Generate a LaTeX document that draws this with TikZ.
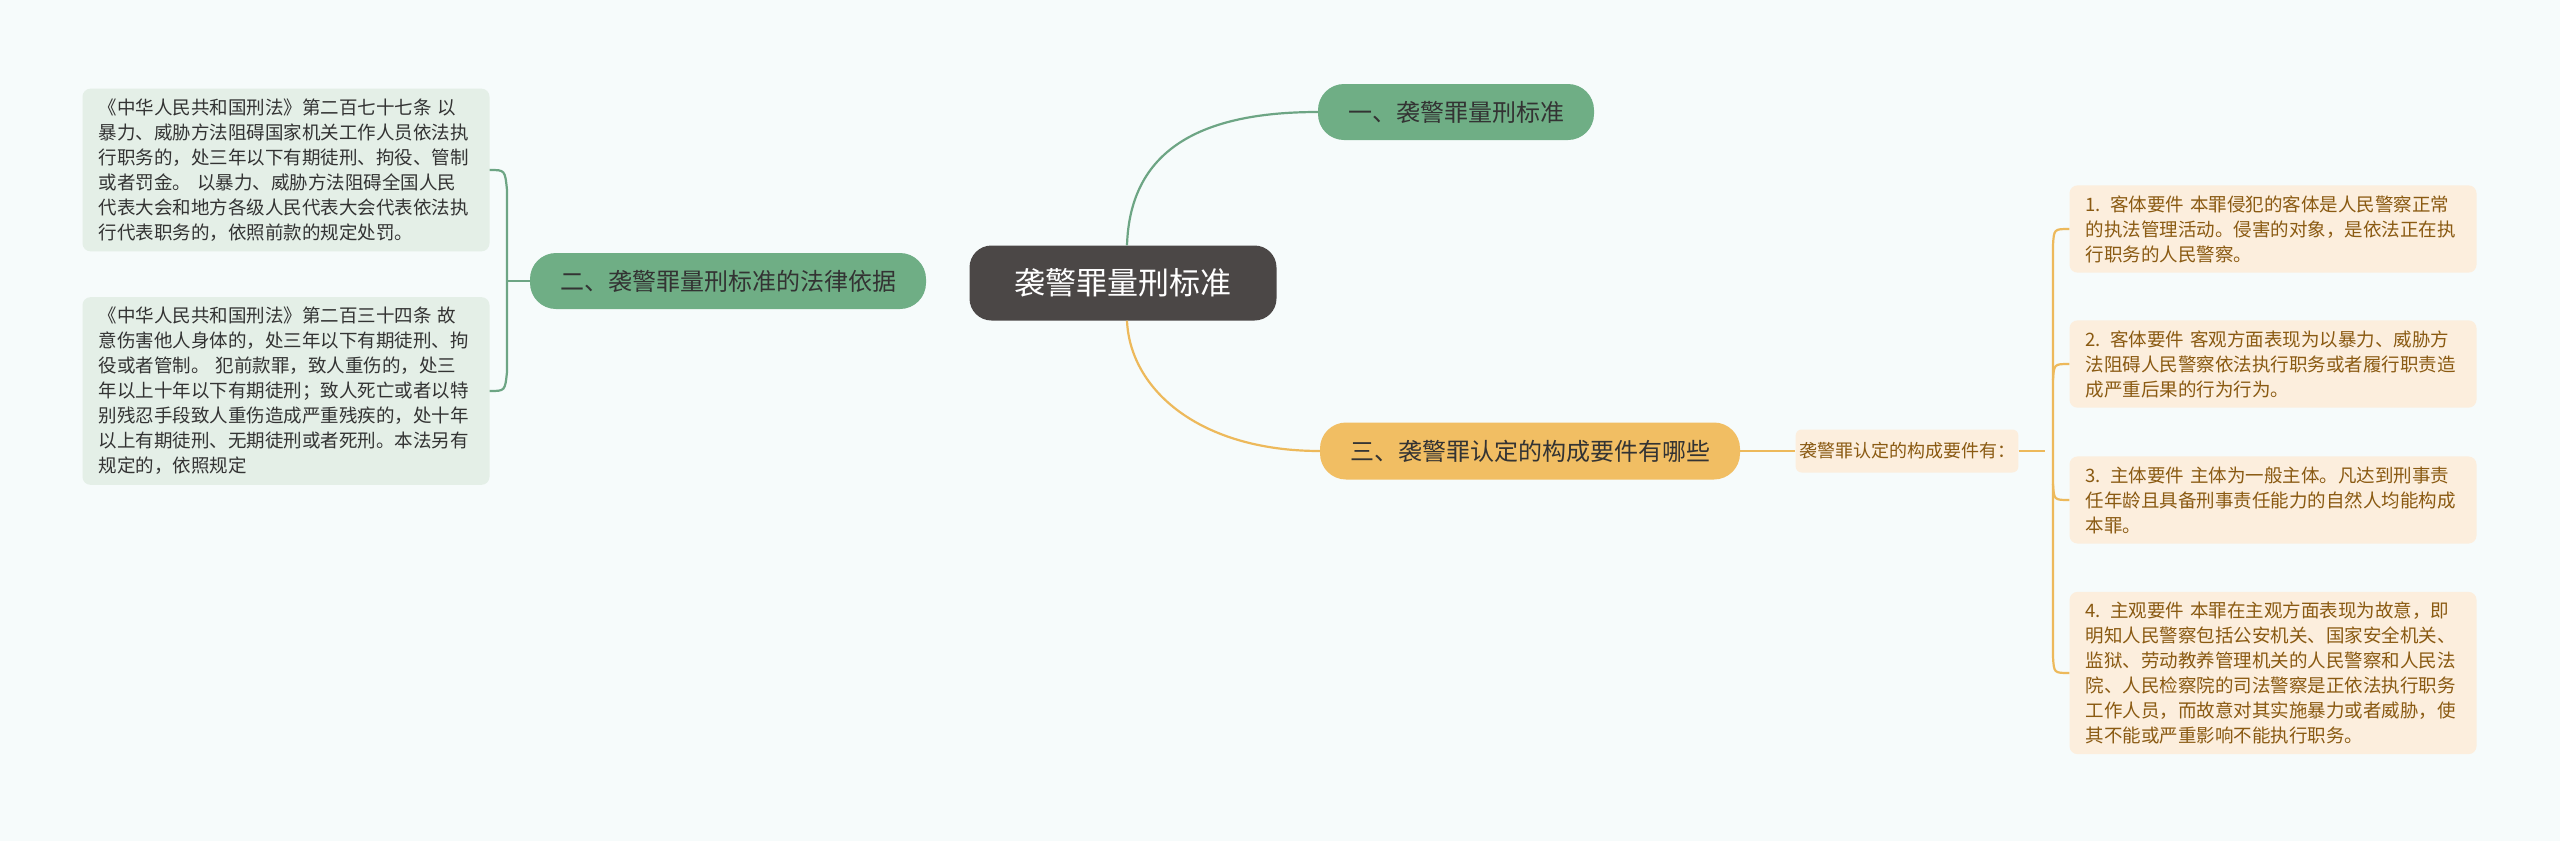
\documentclass[tikz,border=0pt]{standalone}
\usepackage{fontspec}
\setmainfont{Noto Sans CJK SC}
\usetikzlibrary{positioning}
\definecolor{bg}{HTML}{F6FBFB}
\definecolor{gline}{HTML}{6DA584}
\definecolor{gfill}{HTML}{6FAE85}
\definecolor{lgfill}{HTML}{E4EFE7}
\definecolor{oline}{HTML}{EDB95B}
\definecolor{ofill}{HTML}{F1BE63}
\definecolor{lofill}{HTML}{FCEEDD}
\definecolor{otext}{HTML}{8A5A12}
\definecolor{dark}{HTML}{4B4746}
\tikzset{
 root/.style={fill=dark,text=white,rounded corners=22pt,minimum width=307pt,minimum height=75pt,font=\fontsize{31}{36}\selectfont},
 gbranch/.style={fill=gfill,text=black!80,rounded corners=26pt,minimum height=56pt,font=\fontsize{24}{28}\selectfont,inner xsep=30pt},
 obranch/.style={fill=ofill,text=black!80,rounded corners=26pt,minimum height=57pt,font=\fontsize{24}{28}\selectfont,inner xsep=30pt},
 gleaf/.style={fill=lgfill,text=black!80,rounded corners=8pt,align=left,text width=375pt,inner xsep=16pt,inner ysep=10pt,font=\fontsize{18.5}{25}\selectfont},
 oleaf/.style={fill=lofill,text=otext,rounded corners=8pt,align=left,text width=375pt,inner xsep=16pt,inner ysep=10pt,font=\fontsize{18.5}{25}\selectfont},
 gconn/.style={draw=gline,line width=2.2pt},
 oconn/.style={draw=oline,line width=2.2pt},
}
\begin{document}
\begin{tikzpicture}[x=1pt,y=-1pt]
\fill[bg] (0,0) rectangle (2560,841);
\useasboundingbox (0,0) rectangle (2560,841);
\node[root] (c) at (1123,283) {袭警罪量刑标准};
\node[gbranch] (b1) at (1456,112) {一、袭警罪量刑标准};
\node[gbranch] (b2) at (728,281) {二、袭警罪量刑标准的法律依据};
\node[obranch] (b3) at (1530,451) {三、袭警罪认定的构成要件有哪些};
\node[fill=lofill,text=otext,rounded corners=6pt,minimum height=43pt,font=\fontsize{18}{22}\selectfont] (s) at (1907,451) {袭警罪认定的构成要件有：};
\node[gleaf] (l1) at (286,170) {《中华人民共和国刑法》第二百七十七条 以\\暴力、威胁方法阻碍国家机关工作人员依法执\\行职务的，处三年以下有期徒刑、拘役、管制\\或者罚金。 以暴力、威胁方法阻碍全国人民\\代表大会和地方各级人民代表大会代表依法执\\行代表职务的，依照前款的规定处罚。};
\node[gleaf] (l2) at (286,391) {《中华人民共和国刑法》第二百三十四条 故\\意伤害他人身体的，处三年以下有期徒刑、拘\\役或者管制。 犯前款罪，致人重伤的，处三\\年以上十年以下有期徒刑；致人死亡或者以特\\别残忍手段致人重伤造成严重残疾的，处十年\\以上有期徒刑、无期徒刑或者死刑。本法另有\\规定的，依照规定};
\node[oleaf] (r1) at (2273,229) {1. 客体要件 本罪侵犯的客体是人民警察正常\\的执法管理活动。侵害的对象，是依法正在执\\行职务的人民警察。};
\node[oleaf] (r2) at (2273,364) {2. 客体要件 客观方面表现为以暴力、威胁方\\法阻碍人民警察依法执行职务或者履行职责造\\成严重后果的行为行为。};
\node[oleaf] (r3) at (2273,500) {3. 主体要件 主体为一般主体。凡达到刑事责\\任年龄且具备刑事责任能力的自然人均能构成\\本罪。};
\node[oleaf] (r4) at (2273,673) {4. 主观要件 本罪在主观方面表现为故意，即\\明知人民警察包括公安机关、国家安全机关、\\监狱、劳动教养管理机关的人民警察和人民法\\院、人民检察院的司法警察是正依法执行职务\\工作人员，而故意对其实施暴力或者威胁，使\\其不能或严重影响不能执行职务。};
% connectors
\draw[gconn] (c.north) ++(4,0) coordinate (ct) .. controls (1130,150) and (1200,112) .. (b1.west);
\draw[oconn] (c.south) ++(4,0) coordinate (cb) .. controls (1130,390) and (1200,451) .. (b3.west);
\draw[oconn] (b3.east) -- (s.west);
\draw[gconn] (b2.west) -- (507,281);
\draw[gconn] (l1.east) .. controls (505,170) .. (507,190) -- (507,372) .. controls (505,391) .. (l2.east);
\draw[oconn] (s.east) -- (2045,451);
\draw[oconn] (r1.west) .. controls (2054,229) .. (2053,245) -- (2053,657) .. controls (2054,673) .. (r4.west);
\draw[oconn] (r2.west) .. controls (2054,364) .. (2053,380);
\draw[oconn] (r3.west) .. controls (2054,500) .. (2053,484);
\end{tikzpicture}
\end{document}
